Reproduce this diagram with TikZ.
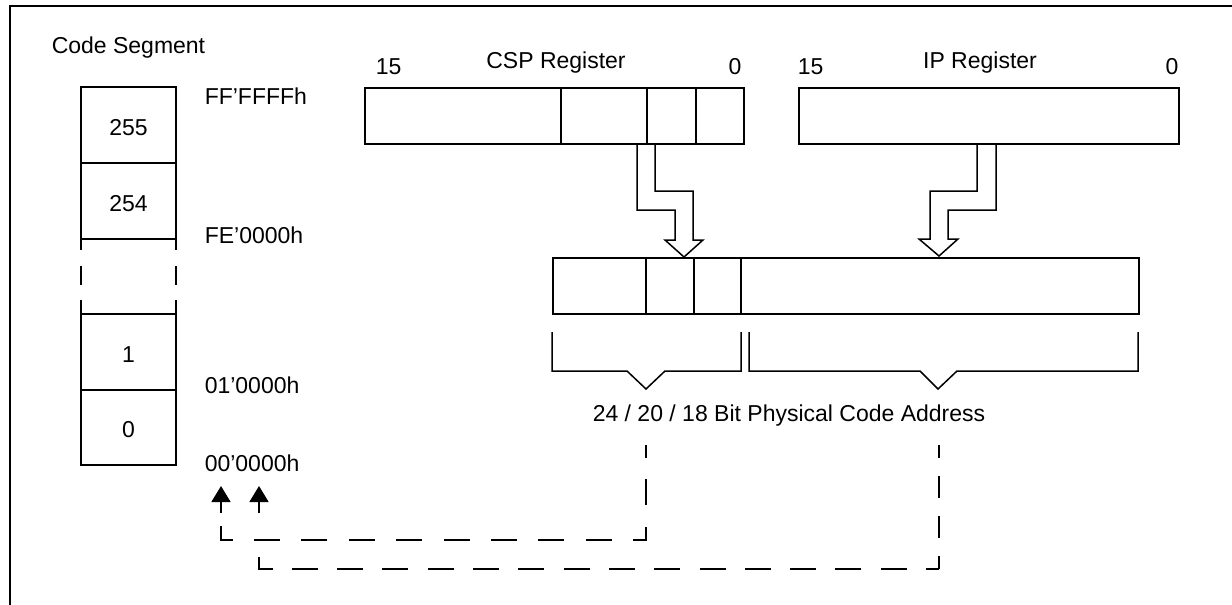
\documentclass[tikz,border=0pt]{standalone}
\usepackage{fontspec}
\setmainfont{Liberation Sans}
\usetikzlibrary{arrows.meta}
\begin{document}
\begin{tikzpicture}[x=1pt,y=-1pt,line width=1.5pt,line join=miter,
  lbl/.style={font=\fontsize{23}{27}\selectfont,inner sep=0pt,text height=16.5pt,text depth=0pt},
  reg/.style={draw,line width=1.5pt,inner sep=0pt,anchor=north west},
  dashA/.style={line width=1.6pt,dash pattern=on 26pt off 21.4pt,dash phase=13pt},
  dashBv/.style={line width=1.6pt,dash pattern=on 22pt off 18pt,dash phase=9pt},
  dashBh/.style={line width=1.6pt,dash pattern=on 26pt off 19.3pt,dash phase=13pt},
  tipline/.style={line width=1.6pt,-{Triangle[length=16pt,width=19pt]}}]
\useasboundingbox (0,0) rectangle (1232,605);
\fill[white] (0,0) rectangle (1232,605);
% frame
\draw[line width=2pt] (10,605) -- (10,6) -- (1232,6);

% code segment column
\node[lbl,anchor=west] (cstitle) at (51,45) {Code Segment};
\draw (81,250) -- (81,87) -- (176,87) -- (176,250);
\draw (81,163) -- (176,163);
\draw (81,239) -- (176,239);
\draw (81,266) -- (81,285);
\draw (176,266) -- (176,285);
\draw (81,300) -- (81,465) -- (176,465) -- (176,300);
\draw (81,314) -- (176,314);
\draw (81,390) -- (176,390);
\node[lbl] (s255) at (128.5,127) {255};
\node[lbl] (s254) at (128.5,203) {254};
\node[lbl] (s1) at (128.5,354) {1};
\node[lbl] (s0) at (128.5,429) {0};
\node[lbl,anchor=west] (aFF) at (204,96) {FF’FFFFh};
\node[lbl,anchor=west] (aFE) at (204,235) {FE’0000h};
\node[lbl,anchor=west] (a01) at (204,385) {01’0000h};
\node[lbl,anchor=west] (a00) at (204,463) {00’0000h};

% CSP register
\node[reg,minimum width=379pt,minimum height=56pt] (csp) at (364,87) {};
\draw (561,87) -- (561,143);
\draw (647,87) -- (647,143);
\draw (696,87) -- (696,143);
\node[lbl,anchor=west] (csp15) at (375,66) {15};
\node[lbl] (csptitle) at (556,60) {CSP Register};
\node[lbl] (csp0) at (735,66) {0};

% IP register
\node[reg,minimum width=380pt,minimum height=56pt] (ip) at (798,87) {};
\node[lbl,anchor=west] (ip15) at (797,66) {15};
\node[lbl] (iptitle) at (980,60) {IP Register};
\node[lbl] (ip0) at (1172,66) {0};

% physical address register
\node[reg,minimum width=586pt,minimum height=56pt] (addr) at (552,257) {};
\draw (646,257) -- (646,313);
\draw (694,257) -- (694,313);
\draw (741,257) -- (741,313);

% block arrows
\draw (637,143) -- (637,210) -- (675,210) -- (675,240) -- (665,240) -- (684,257)
      -- (703,240) -- (693,240) -- (693,191) -- (655,191) -- (655,143);
\draw (977,143) -- (977,191) -- (930,191) -- (930,239) -- (919,239) -- (939,256)
      -- (958,239) -- (948,239) -- (948,210) -- (996,210) -- (996,143);

% braces
\draw (552,332) -- (552,371) -- (627,371) -- (646,389) -- (665,371) -- (741,371) -- (741,332);
\draw (749,332) -- (749,371) -- (920,371) -- (938,389) -- (957,371) -- (1138,371) -- (1138,332);
\node[lbl,anchor=west] (phys) at (592,413) {24 / 20 / 18 Bit Physical Code Address};

% dashed connectors
\coordinate (srcA) at (646,445);
\coordinate (cornerA) at (221,540);
\coordinate (stemA) at (221,513);
\coordinate (dstA) at (221,486);
\coordinate (srcB) at (939,445);
\coordinate (cornerB) at (939,569);
\coordinate (bendB) at (259,556);
\coordinate (stemB) at (259,513);
\coordinate (dstB) at (259,486);
\draw[dashA] (srcA) |- (cornerA) -- (stemA);
\draw[dashBv] (srcB) -- (cornerB);
\draw[dashBh] (cornerB) -| (bendB);
\draw[tipline] (stemA) -- (dstA);
\draw[tipline] (stemB) -- (dstB);
\end{tikzpicture}
\end{document}
